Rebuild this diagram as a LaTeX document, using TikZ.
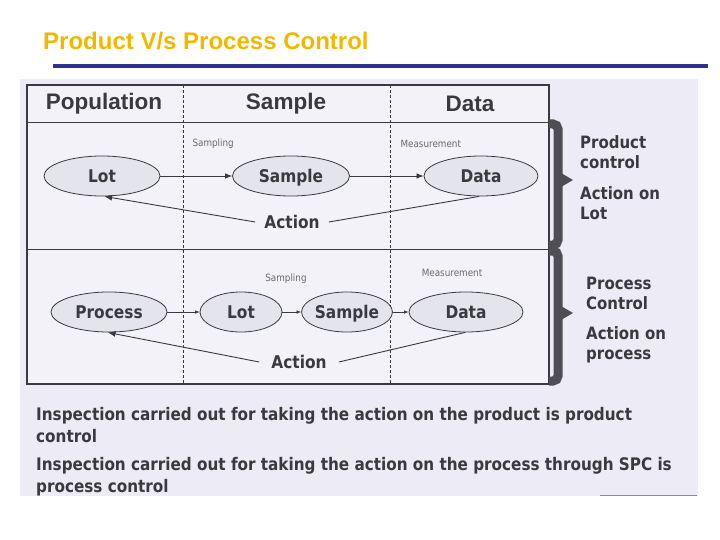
\documentclass[tikz,border=0pt]{standalone}
\usepackage{fontspec}
\setmainfont{Liberation Sans}
\newfontfamily\tah[FakeStretch=0.88]{DejaVu Sans}
\usetikzlibrary{arrows.meta,shapes.geometric,calc}
\definecolor{gold}{RGB}{240,184,0}
\definecolor{rulebl}{RGB}{46,49,146}
\definecolor{scanbg}{RGB}{236,235,246}
\definecolor{tabbg}{RGB}{242,242,248}
\definecolor{ellbg}{RGB}{228,228,236}
\definecolor{ink}{RGB}{58,58,62}
\definecolor{brc}{RGB}{78,78,84}
\tikzset{
  ell/.style={ellipse, draw=ink, line width=0.8pt, fill=ellbg, font=\tah\bfseries\fontsize{17.5}{20}\selectfont, text=ink, inner sep=0pt, text height=12.8pt, text depth=0pt},
  hdr/.style={font=\bfseries\fontsize{22.5}{26}\selectfont, text=ink},
  smalllbl/.style={font=\tah\fontsize{10}{12}\selectfont, text=ink!75},
  side/.style={font=\tah\bfseries\fontsize{17}{20}\selectfont, text=ink, align=left, anchor=west, inner sep=0pt},
  act/.style={font=\tah\bfseries\fontsize{17.5}{20}\selectfont, text=ink, inner xsep=9pt, inner ysep=2pt},
  flow/.style={draw=ink, line width=0.7pt, -{Latex[length=7pt,width=5.5pt]}},
  flows/.style={draw=ink, line width=0.6pt, -{Latex[length=4.5pt,width=3.5pt]}},
  back/.style={draw=ink, line width=0.9pt},
  backarr/.style={draw=ink, line width=0.9pt, -{Latex[length=8pt,width=6pt]}},
  dashv/.style={draw=ink, line width=0.6pt, densely dashed},
  bracebar/.style={draw=brc, line width=9pt, rounded corners=5pt},
  bodytxt/.style={font=\tah\bfseries\fontsize{17.3}{22}\selectfont, text=ink, align=left, anchor=west, inner sep=0pt}
}
\begin{document}
\begin{tikzpicture}[x=1pt,y=-1pt]
\useasboundingbox (0,0) rectangle (720,540);
\fill[white] (0,0) rectangle (720,540);
% title and rule
\node[font=\bfseries\fontsize{24}{26}\selectfont, text=gold, anchor=west, inner sep=0pt] (title) at (43,41) {Product V/s Process Control};
\fill[rulebl] (53,64) rectangle (708,68);
% scan background
\fill[scanbg] (20,79) rectangle (698,496);
\draw[black!45, line width=1.2pt] (600,495.5) -- (697,495.5);
% table
\fill[tabbg] (27,85) rectangle (549,384);
\draw[ink, line width=1.2pt] (27,85) rectangle (549,384);
\draw[ink, line width=1pt] (27,123) -- (549,123);
\draw[ink, line width=1pt] (27,249) -- (549,249);
\draw[dashv] (183,85) -- (183,384);
\draw[dashv] (390,85) -- (390,384);
% headers
\node[hdr] (hpop) at (104,104) {Population};
\node[hdr] (hsmp) at (286,104) {Sample};
\node[hdr] (hdat) at (470,104) {Data};
% row 1
\node[smalllbl, anchor=west] (s1) at (189,144) {Sampling};
\node[smalllbl, anchor=west] (m1) at (397,144) {Measurement};
\node[ell, minimum width=116pt, minimum height=40pt] (lot1) at (102,176) {Lot};
\node[ell, minimum width=117pt, minimum height=40pt] (smp1) at (291,176) {Sample};
\node[ell, minimum width=114pt, minimum height=40pt] (dat1) at (481,176) {Data};
\node[act] (act1) at (292,222) {Action};
\draw[flow] (lot1.east) -- (smp1.west);
\draw[flow] (smp1.east) -- (dat1.west);
\draw[back] (dat1.-95) -- (act1.east);
\draw[backarr] (act1.west) -- (lot1.-84);
% row 2
\node[smalllbl] (s2) at (286,279) {Sampling};
\node[smalllbl] (m2) at (452,273) {Measurement};
\node[ell, minimum width=116pt, minimum height=40pt] (proc2) at (109,312) {Process};
\node[ell, minimum width=82pt, minimum height=40pt] (lot2) at (241,312) {Lot};
\node[ell, minimum width=82pt, minimum height=40pt] (smp2) at (347,312) {Sample};
\node[ell, minimum width=114pt, minimum height=40pt] (dat2) at (466,312) {Data};
\node[act, inner xsep=12pt] (act2) at (299,362) {Action};
\draw[flows] (proc2.east) -- (lot2.west);
\draw[flows] (lot2.east) -- (smp2.west);
\draw[flows] (smp2.east) -- (dat2.west);
\draw[back] (dat2.-92) -- (act2.east);
\draw[backarr] (act2.west) -- (proc2.-94);
% braces
\draw[bracebar] (549,124) -- (558,124) -- (558,245) -- (549,245);
\fill[brc] (561,173) -- (573,180) -- (561,187) -- cycle;
\draw[bracebar] (549,251) -- (558,251) -- (558,381) -- (549,381);
\fill[brc] (561,306) -- (573,313) -- (561,320) -- cycle;
% side notes
\node[side] (pc) at (580,152) {Product\\control};
\node[side] (al) at (580,203) {Action on\\Lot};
\node[side] (prc) at (586,293) {Process\\Control};
\node[side] (ap) at (586,345) {Action on\\process};
% bottom text
\node[bodytxt] (b1) at (36,425) {Inspection carried out for taking the action on the product is product\\control};
\node[bodytxt] (b2) at (36,477) {Inspection carried out for taking the action on the process through SPC is\\process control};
\end{tikzpicture}
\end{document}
